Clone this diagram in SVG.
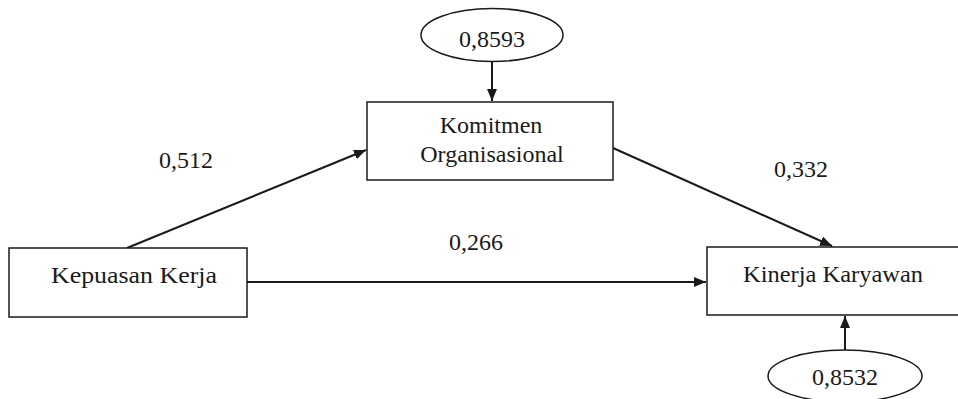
<svg xmlns="http://www.w3.org/2000/svg" width="958" height="399" viewBox="0 0 958 399">
<defs>
<marker id="ah" viewBox="0 0 12 10" refX="12" refY="5" markerWidth="12" markerHeight="10" markerUnits="userSpaceOnUse" orient="auto">
<path d="M0,0 L12,5 L0,10 Z" fill="#1a1a1a"/>
</marker>
<style>
.box{fill:#fff;stroke:#1a1a1a;stroke-width:1.5}
.t{font-family:"Liberation Serif","Times New Roman",serif;font-size:24px;fill:#1a1a1a;text-anchor:middle}
.c{stroke:#1a1a1a;stroke-width:2;fill:none;marker-end:url(#ah)}
</style>
</defs>
<rect width="958" height="399" fill="#fff"/>
<g id="connectors">
<line class="c" x1="492" y1="62" x2="492" y2="101"/>
<line class="c" x1="127" y1="248" x2="366" y2="150"/>
<line class="c" x1="613" y1="148" x2="832" y2="246"/>
<line class="c" x1="247" y1="282" x2="706" y2="282"/>
<line class="c" x1="845" y1="350" x2="845" y2="316"/>
</g>
<g id="e1">
<ellipse class="box" cx="492" cy="35" rx="71" ry="26.5"/>
<text class="t" x="492" y="47">0,8593</text>
</g>
<g id="komitmen">
<rect class="box" x="367" y="102" width="246" height="78"/>
<text class="t" x="491" y="133">Komitmen</text>
<text class="t" x="492" y="162">Organisasional</text>
</g>
<g id="kepuasan">
<rect class="box" x="9" y="248" width="238" height="69"/>
<text class="t" x="134" y="283" textLength="166" lengthAdjust="spacingAndGlyphs">Kepuasan Kerja</text>
</g>
<g id="kinerja">
<rect class="box" x="707" y="247" width="260" height="68"/>
<text class="t" x="833" y="282" textLength="180" lengthAdjust="spacingAndGlyphs">Kinerja Karyawan</text>
</g>
<g id="e2">
<ellipse class="box" cx="845" cy="376" rx="77" ry="26"/>
<text class="t" x="845" y="385">0,8532</text>
</g>
<g id="labels">
<text class="t" x="186" y="168">0,512</text>
<text class="t" x="801" y="177">0,332</text>
<text class="t" x="476" y="250">0,266</text>
</g>
</svg>
